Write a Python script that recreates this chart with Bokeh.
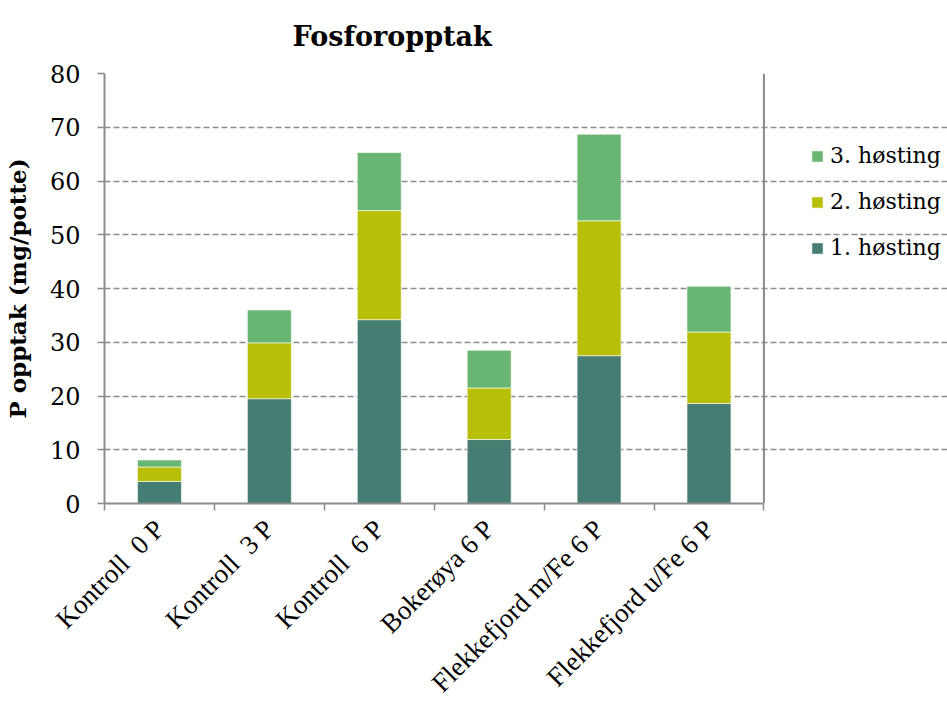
from math import pi
from bokeh.plotting import figure
from bokeh.models import Range1d, FixedTicker, Legend, LegendItem, ColumnDataSource, Span
from bokeh.embed import file_html
from bokeh.resources import INLINE

categories = ["Kontroll\u00a0 0 P", "Kontroll\u00a0 3 P", "Kontroll\u00a0 6 P", "Bokerøya 6 P",
              "Flekkefjord m/Fe 6 P", "Flekkefjord u/Fe 6 P"]
series_names = ["1. høsting", "2. høsting", "3. høsting"]
h1 = [4.1, 19.5, 34.2, 11.9, 27.5, 18.6]
h2 = [2.7, 10.4, 20.3, 9.6, 25.1, 13.3]
h3 = [1.3, 6.1, 10.8, 7.0, 16.1, 8.5]
y_ticks = [0, 10, 20, 30, 40, 50, 60, 70, 80]
colors = ["#467D72", "#B8BF08", "#69B672"]

SERIF = "DejaVu Serif"
GRAY = "#8c8c8c"

W, H = 947, 711
LEFT, RIGHT_PLOT = 102, 763        # pixel extent of the plotting area
n = len(categories)
x_end = n * (W - LEFT) / (RIGHT_PLOT - LEFT)   # frame runs to the right edge; legend lives there

xpos = [i + 0.5 for i in range(n)]
source = ColumnDataSource(dict(x=xpos, h1=h1, h2=h2, h3=h3))

p = figure(width=W, height=H, output_backend="svg", toolbar_location=None,
           x_range=Range1d(0, x_end), y_range=Range1d(0, 80),
           min_border_left=LEFT, min_border_right=0, min_border_top=73,
           min_border_bottom=207)

renderers = p.vbar_stack(["h1", "h2", "h3"], x="x", width=0.4, source=source,
                         color=colors, line_color="white", line_alpha=0.6,
                         line_width=1)

# title
p.title.text = "Fosforopptak"
p.title.text_font = SERIF
p.title.text_font_size = "27px"
p.title.text_font_style = "bold"
p.title.text_color = "black"
p.title.align = "left"
p.title.offset = 188
p.title.vertical_align = "top"
p.title.standoff = 39

# x axis
xa = p.xaxis[0]
xa.bounds = (0, n)
xa.ticker = FixedTicker(ticks=xpos, minor_ticks=list(range(n + 1)))
xa.major_label_overrides = {x: c for x, c in zip(xpos, categories)}
xa.major_label_orientation = pi / 4
xa.major_tick_out = 0
xa.major_tick_in = 0
xa.minor_tick_out = 7
xa.minor_tick_in = 0
xa.minor_tick_line_color = GRAY
xa.minor_tick_line_width = 1.5
xa.axis_line_color = GRAY
xa.axis_line_width = 2
xa.major_label_text_font = "Liberation Serif"
xa.major_label_text_font_size = "27px"
xa.major_label_text_color = "black"
xa.major_label_standoff = 14

# y axis
ya = p.yaxis[0]
ya.ticker = FixedTicker(ticks=y_ticks)
ya.axis_label = "P opptak (mg/potte)"
ya.axis_label_text_font = SERIF
ya.axis_label_text_font_size = "23px"
ya.axis_label_text_font_style = "bold"
ya.axis_label_text_color = "black"
ya.axis_label_standoff = 16
ya.major_label_text_font = SERIF
ya.major_label_text_font_size = "24px"
ya.major_label_text_color = "black"
ya.major_label_standoff = 17
ya.major_tick_out = 7
ya.major_tick_in = 0
ya.minor_tick_out = 0
ya.minor_tick_in = 0
ya.major_tick_line_color = GRAY
ya.major_tick_line_width = 1.5
ya.axis_line_color = GRAY
ya.axis_line_width = 2

p.xgrid.grid_line_color = None
p.ygrid.grid_line_color = GRAY
p.ygrid.grid_line_width = 1.5
p.ygrid.grid_line_dash = "6 3"
p.ygrid.bounds = (0, n)
p.outline_line_color = None
p.add_layout(Span(location=n, dimension="height", line_color=GRAY, line_width=2))

legend = Legend(items=[LegendItem(label=series_names[i], renderers=[renderers[i]])
                       for i in [2, 1, 0]],
                location=(706, 243), orientation="vertical",
                label_text_font=SERIF, label_text_font_size="22px",
                label_text_color="black",
                glyph_width=14, glyph_height=14, spacing=21,
                border_line_color=None, background_fill_alpha=0,
                label_standoff=6, padding=0, margin=0)
p.add_layout(legend)

open("out.html", "w").write(file_html(p, INLINE))
